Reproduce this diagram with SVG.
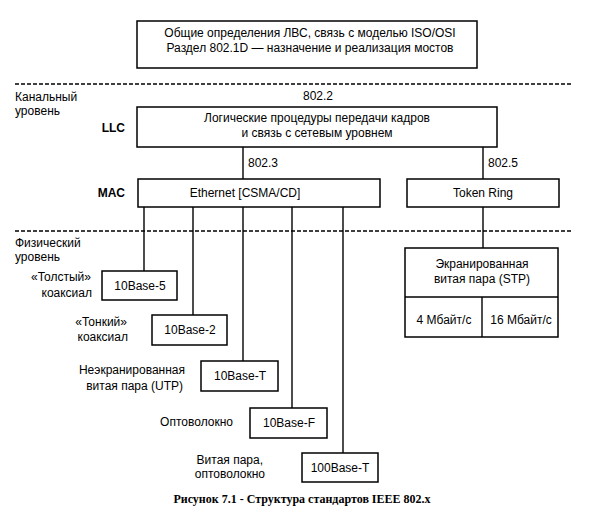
<svg xmlns="http://www.w3.org/2000/svg" width="607" height="521" viewBox="0 0 607 521">
<style>
.box{fill:#fff;stroke:#000;stroke-width:1.5}
.ln{stroke:#000;stroke-width:1.4;fill:none}
.dash{stroke:#000;stroke-width:1.6;stroke-dasharray:4 2;fill:none}
text{font-family:"Liberation Sans",Arial,sans-serif;font-size:12px;fill:#000}
.c{text-anchor:middle}
.e{text-anchor:end}
.b{font-weight:bold}
.cap{font-family:"Liberation Serif","Times New Roman",serif;font-weight:bold;font-size:12px;text-anchor:middle}
</style>
<rect width="607" height="521" fill="#fff"/>
<g id="dividers">
<line class="dash" x1="15" y1="84" x2="573" y2="84"/>
<line class="dash" x1="15" y1="231" x2="573" y2="231"/>
</g>
<g id="layer-labels">
<text x="15" y="101">Канальный</text>
<text x="15" y="115">уровень</text>
<text x="125" y="132" class="e b">LLC</text>
<text x="125" y="197" class="e b">MAC</text>
<text x="15" y="247">Физический</text>
<text x="15" y="261">уровень</text>
</g>
<g id="connectors">
<line class="ln" x1="243" y1="147" x2="243" y2="179"/>
<line class="ln" x1="483" y1="147" x2="483" y2="179"/>
<line class="ln" x1="483" y1="207" x2="483" y2="248"/>
<line class="ln" x1="144" y1="207" x2="144" y2="271"/>
<line class="ln" x1="193" y1="207" x2="193" y2="315"/>
<line class="ln" x1="243" y1="207" x2="243" y2="361"/>
<line class="ln" x1="292" y1="207" x2="292" y2="408"/>
<line class="ln" x1="343" y1="207" x2="343" y2="453"/>
<text x="318" y="100" class="c">802.2</text>
<text x="248" y="167">802.3</text>
<text x="488" y="167">802.5</text>
</g>
<g id="general">
<rect class="box" x="137" y="21" width="340" height="47"/>
<text x="310" y="37" class="c">Общие определения ЛВС, связь с моделью ISO/OSI</text>
<text x="310" y="52" class="c">Раздел 802.1D — назначение и реализация мостов</text>
</g>
<g id="llc">
<rect class="box" x="137" y="107" width="360" height="40"/>
<text x="317" y="122" class="c">Логические процедуры передачи кадров</text>
<text x="317" y="137" class="c">и связь с сетевым уровнем</text>
</g>
<g id="ethernet">
<rect class="box" x="138" y="179" width="242" height="28"/>
<text x="245" y="197" class="c">Ethernet [CSMA/CD]</text>
</g>
<g id="token-ring">
<rect class="box" x="407" y="179" width="152" height="28"/>
<text x="483" y="197" class="c">Token Ring</text>
</g>
<g id="stp">
<rect class="box" x="405" y="248" width="153" height="89"/>
<line class="ln" x1="405" y1="297" x2="558" y2="297"/>
<line class="ln" x1="482" y1="297" x2="482" y2="337"/>
<text x="482" y="268" class="c">Экранированная</text>
<text x="482" y="283" class="c">витая пара (STP)</text>
<text x="444" y="324" class="c">4 Мбайт/с</text>
<text x="521" y="324" class="c">16 Мбайт/с</text>
</g>
<g id="b10base5">
<rect class="box" x="102" y="271" width="75" height="29"/>
<text x="140" y="290" class="c">10Base-5</text>
<text x="91" y="281" class="e">«Толстый»</text>
<text x="92" y="297" class="e">коаксиал</text>
</g>
<g id="b10base2">
<rect class="box" x="152" y="315" width="75" height="30"/>
<text x="190" y="334" class="c">10Base-2</text>
<text x="127" y="326" class="e">«Тонкий»</text>
<text x="128" y="341" class="e">коаксиал</text>
</g>
<g id="b10baset">
<rect class="box" x="201" y="361" width="77" height="30"/>
<text x="240" y="380" class="c">10Base-T</text>
<text x="185" y="374" class="e">Неэкранированная</text>
<text x="183" y="390" class="e">витая пара (UTP)</text>
</g>
<g id="b10basef">
<rect class="box" x="250" y="408" width="77" height="30"/>
<text x="289" y="427" class="c">10Base-F</text>
<text x="233" y="426" class="e">Оптоволокно</text>
</g>
<g id="b100baset">
<rect class="box" x="302" y="453" width="76" height="29"/>
<text x="340" y="472" class="c">100Base-T</text>
<text x="263" y="464" class="e">Витая пара,</text>
<text x="265" y="478" class="e">оптоволокно</text>
</g>
<text x="302" y="503" class="cap">Рисунок 7.1 - Структура стандартов IEEE 802.x</text>
</svg>
